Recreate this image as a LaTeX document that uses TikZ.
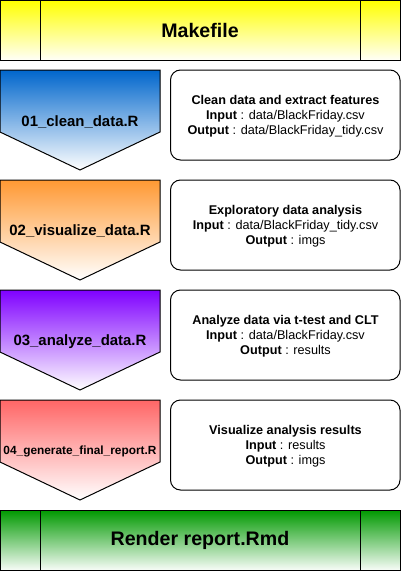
\documentclass[tikz,border=0pt]{standalone}
\usepackage{fontspec}
\setmainfont{Liberation Sans}
\definecolor{cyel}{HTML}{FFFF00}
\definecolor{cblue}{HTML}{0066CC}
\definecolor{corange}{HTML}{FF9933}
\definecolor{cpurple}{HTML}{7F00FF}
\definecolor{cred}{HTML}{FF6666}
\definecolor{cgreen}{HTML}{009900}
\tikzset{
  outline/.style={draw=black, line width=0.75pt},
  bartitle/.style={font=\fontsize{14.7}{17}\selectfont\bfseries, inner sep=0pt},
  steplabel/.style={font=\fontsize{11.2}{13}\selectfont\bfseries, inner sep=0pt},
  smalllabel/.style={font=\fontsize{8.9}{11}\selectfont\bfseries, inner sep=0pt},
  infobox/.style={outline, rounded corners=7.5pt},
  infotext/.style={font=\fontsize{9.5}{11.4}\selectfont, align=center, inner sep=0pt},
}
\newcommand{\pentarrow}[2]{%
  \path[outline, top color=#2, bottom color=white]
    (0,#1) -- (160,#1) -- (160,#1+62) -- (80,#1+100) -- (0,#1+62) -- cycle;}
\begin{document}
\begin{tikzpicture}[x=0.75pt, y=-0.75pt]
\useasboundingbox (0,0) rectangle (401,571);
% Makefile bar
\path[outline, top color=cyel, bottom color=cyel!3] (0.5,0.5) rectangle (400.5,60);
\draw[line width=0.75pt] (40,0.5) -- (40,60) (360,0.5) -- (360,60);
\node[bartitle] (make) at (200,30.5) {Makefile};
% step arrows
\pentarrow{70}{cblue}
\node[steplabel] (s1) at (80,121.7) {01\_clean\_data.R};
\pentarrow{180}{corange}
\node[steplabel] (s2) at (80,231.2) {02\_visualize\_data.R};
\pentarrow{290}{cpurple}
\node[steplabel] (s3) at (80,341.7) {03\_analyze\_data.R};
\pentarrow{400}{cred}
\node[smalllabel] (s4) at (80,451.7) {04\_generate\_final\_report.R};
% info boxes
\draw[infobox] (170.5,70) rectangle (400,160);
\node[infotext] (b1) at (285.5,116.5) {\textbf{Clean data and extract features}\\\textbf{Input} : data/BlackFriday.csv\\\textbf{Output} : data/BlackFriday\_tidy.csv};
\draw[infobox] (170.5,180) rectangle (400,270);
\node[infotext] (b2) at (285.5,226.5) {\textbf{Exploratory data analysis}\\\textbf{Input} : data/BlackFriday\_tidy.csv\\\textbf{Output} : imgs};
\draw[infobox] (170.5,290) rectangle (400,380);
\node[infotext] (b3) at (285.5,336.5) {\textbf{Analyze data via t-test and CLT}\\\textbf{Input} : data/BlackFriday.csv\\\textbf{Output} : results};
\draw[infobox] (170.5,400) rectangle (400,490);
\node[infotext] (b4) at (285.5,446.5) {\textbf{Visualize analysis results}\\\textbf{Input} : results\\\textbf{Output} : imgs};
% Render bar
\path[outline, top color=cgreen, bottom color=cgreen!3] (0.5,510) rectangle (400.5,570);
\draw[line width=0.75pt] (40,510) -- (40,570) (360,510) -- (360,570);
\node[bartitle] (render) at (200,540) {Render report.Rmd};
\end{tikzpicture}
\end{document}
